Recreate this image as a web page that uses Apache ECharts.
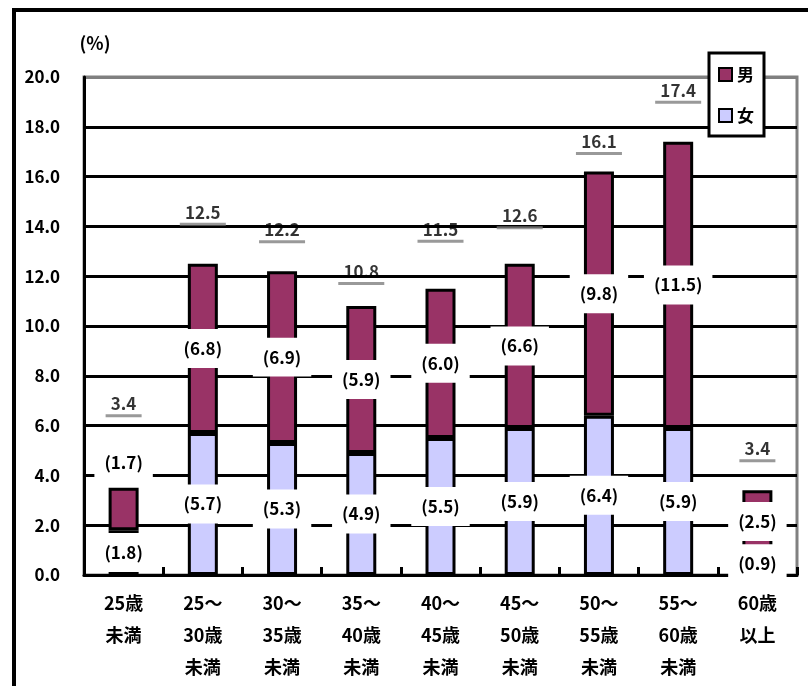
<!DOCTYPE html>
<html>
<head>
<meta charset="utf-8">
<script src="https://cdn.jsdelivr.net/npm/echarts@6/dist/echarts.min.js"></script>
<style>
  html, body { margin: 0; padding: 0; background: #fff; }
  #chart { width: 808px; height: 686px; }
</style>
</head>
<body>
<div id="chart"></div>
<script>
// Age bands (x axis)
const categories = ['25歳\n未満', '25～\n30歳\n未満', '30～\n35歳\n未満', '35～\n40歳\n未満',
  '40～\n45歳\n未満', '45～\n50歳\n未満', '50～\n55歳\n未満', '55～\n60歳\n未満', '60歳\n以上'];
// Share by sex (%)
const female = [1.8, 5.7, 5.3, 4.9, 5.5, 5.9, 6.4, 5.9, 0.9];
const male = [1.7, 6.8, 6.9, 5.9, 6.0, 6.6, 9.8, 11.5, 2.5];
// Printed totals (%)
const totals = [3.4, 12.5, 12.2, 10.8, 11.5, 12.6, 16.1, 17.4, 3.4];
// Y axis range
const yMin = 0, yMax = 20, yStep = 2;

// How far each total label sits above its bar (px)
const totalLift = [78, 43, 33, 26, 51, 37, 24, 43, 33];

const FONT = "'Noto Sans CJK JP', 'Noto Sans', sans-serif";
const MAROON = '#993366';
const LAVENDER = '#CCCCFF';

const segLabel = {
  show: true,
  position: 'inside',
  formatter: p => '(' + p.value.toFixed(1) + ')',
  color: '#000',
  fontFamily: FONT,
  fontSize: 17,
  fontWeight: 'bold',
  backgroundColor: '#fff',
  padding: [11, 10]
};

const chart = echarts.init(document.getElementById('chart'));

const maleData = male.map((v, i) => {
  // the first band is too short to hold its label inside
  if (i === 0) return { value: v, label: { position: 'top', distance: 6 } };
  return v;
});

const totalData = totals.map((v, i) => ({
  value: v,
  label: { offset: [0, -(totalLift[i] + 6)] }
}));

chart.setOption({
  animation: false,
  backgroundColor: '#fff',
  graphic: [{
    type: 'rect',
    shape: { x: 14, y: 10, width: 900, height: 800 },
    style: { fill: 'none', stroke: '#000', lineWidth: 4 },
    silent: true, z: 100
  }],
  grid: {
    left: 84, top: 77, right: 11, bottom: 111,
    show: true, borderColor: '#808080', borderWidth: 3, backgroundColor: 'transparent'
  },
  legend: {
    data: ['男', '女'],
    orient: 'vertical',
    left: 709, top: 53,
    backgroundColor: '#fff',
    borderColor: '#000', borderWidth: 3,
    padding: [13, 10, 12, 9],
    itemGap: 24,
    itemWidth: 13, itemHeight: 13,
    icon: 'rect',
    textStyle: { fontFamily: FONT, fontSize: 17, fontWeight: 'bold', color: '#000' },
    z: 20
  },
  xAxis: {
    type: 'category',
    data: categories,
    axisLine: { lineStyle: { color: '#000', width: 3 } },
    axisTick: { show: true, inside: true, length: 8, lineStyle: { color: '#000', width: 3 } },
    axisLabel: {
      fontFamily: FONT, fontSize: 18, fontWeight: 'bold', color: '#000',
      lineHeight: 32, margin: 12, interval: 0
    }
  },
  yAxis: {
    type: 'value',
    min: yMin, max: yMax, interval: yStep,
    name: '(%)',
    nameLocation: 'end',
    nameGap: 25,
    nameTextStyle: { fontFamily: FONT, fontSize: 18, fontWeight: 'bold', color: '#000', align: 'center', padding: [0, 0, 0, 22] },
    axisLine: { show: true, lineStyle: { color: '#000', width: 3 } },
    axisTick: { show: false },
    splitLine: {
      show: true,
      lineStyle: { color: ['#000', '#000', '#000', '#000', '#000', '#000', '#000', '#000', '#000', '#000', '#808080'], width: 3 }
    },
    axisLabel: {
      fontFamily: FONT, fontSize: 17, fontWeight: 'bold', color: '#000', margin: 24,
      formatter: v => v.toFixed(1)
    }
  },
  series: [
    {
      name: '女', type: 'bar', stack: 'total', data: female, barWidth: 30,
      itemStyle: { color: LAVENDER, borderColor: '#000', borderWidth: 3 },
      label: segLabel, z: 3
    },
    {
      name: '男', type: 'bar', stack: 'total', data: maleData, barWidth: 30,
      itemStyle: { color: MAROON, borderColor: '#000', borderWidth: 3 },
      label: segLabel, z: 3
    },
    {
      name: '計', type: 'scatter', data: totalData, symbolSize: 0, silent: true,
      label: {
        show: true, position: 'inside', align: 'center',
        formatter: p => {
          const s = p.value.toFixed(1);
          return '{v|' + s + '}\n{' + (s.length > 3 ? 'u4' : 'u3') + '| }';
        },
        rich: {
          v: { fontFamily: FONT, fontSize: 17, fontWeight: 'bold', color: '#000', lineHeight: 19, align: 'center' },
          u3: { width: 36, height: 3, lineHeight: 5, fontSize: 2, backgroundColor: '#7f7f7f', align: 'center' },
          u4: { width: 46, height: 3, lineHeight: 5, fontSize: 2, backgroundColor: '#7f7f7f', align: 'center' }
        }
      },
      z: 5
    }
  ]
});
</script>
</body>
</html>
